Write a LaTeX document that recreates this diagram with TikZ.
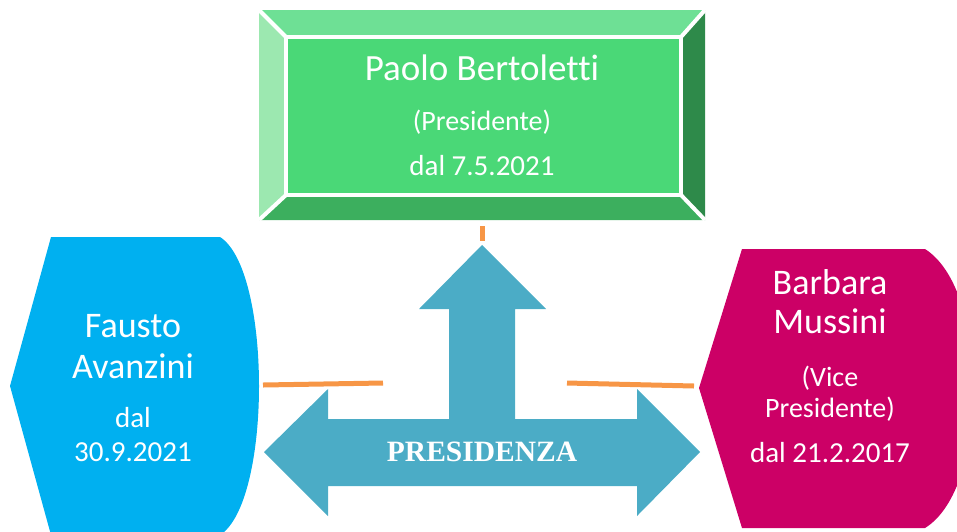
\documentclass[tikz,border=0pt]{standalone}
\usepackage{fontspec}
\setmainfont{Carlito}[Ligatures=NoCommon]
\newfontfamily\arrowfont{Liberation Serif}
\definecolor{grinner}{HTML}{4AD877}
\definecolor{grtop}{HTML}{6EE095}
\definecolor{grleft}{HTML}{9CE8B0}
\definecolor{grright}{HTML}{2E8A4A}
\definecolor{grbottom}{HTML}{3CAF5E}
\definecolor{leftblue}{HTML}{00B0F0}
\definecolor{rightpink}{HTML}{CC0066}
\definecolor{arrowblue}{HTML}{4BACC6}
\definecolor{connorange}{HTML}{F79646}
\begin{document}
\begin{tikzpicture}[x=1pt,y=-1pt,inner sep=0pt,outer sep=0pt,
bevel/.style={draw=white,line width=4pt,line join=round},
lbl/.style={text=white,anchor=base},
conn/.style={draw=connorange,line width=5pt}]
\useasboundingbox (0,0) rectangle (957,531);
\begin{scope}
\clip (0,0) rectangle (957,531);
% bevelled box on top
\fill[grtop] (259,10) -- (705,10) -- (681,37) -- (286,37) -- cycle;
\fill[grleft] (259,10) -- (286,37) -- (286,195) -- (259,220) -- cycle;
\fill[grright] (705,10) -- (705,220) -- (681,195) -- (681,37) -- cycle;
\fill[grbottom] (259,220) -- (286,195) -- (681,195) -- (705,220) -- cycle;
\draw[bevel] (259,10) -- (286,37) (705,10) -- (681,37) (259,220) -- (286,195) (705,220) -- (681,195);
\node[draw=white,line width=4pt,fill=grinner,minimum width=395pt,minimum height=158pt] (pres) at (483.5,116) {};
\node[lbl,font=\fontsize{37}{44}\selectfont] (pname) at (482,80) {Paolo Bertoletti};
\node[lbl,font=\fontsize{28}{34}\selectfont] (prole) at (482,130) {(Presidente)};
\node[lbl,font=\fontsize{29}{34}\selectfont] (pdate) at (482,175) {dal 7.5.2021};
% left and right shapes
\fill[leftblue] (10,386) -- (51,237) -- (220,237) .. controls (272,270) and (272,502) .. (220,535) -- (51,535) -- cycle;
\fill[rightpink] (699,388) -- (742,249) -- (925,249) .. controls (990,290) and (990,488) .. (925,528) -- (742,528) -- cycle;
\node[lbl,font=\fontsize{36}{42}\selectfont] (fname) at (133,337) {Fausto};
\node[lbl,font=\fontsize{36}{42}\selectfont] (fsurname) at (133,378) {Avanzini};
\node[lbl,font=\fontsize{29}{34}\selectfont] (fdal) at (133,427) {dal};
\node[lbl,font=\fontsize{29}{34}\selectfont] (fdate) at (133,461) {30.9.2021};
\node[lbl,font=\fontsize{36}{42}\selectfont] (bname) at (830,294) {Barbara};
\node[lbl,font=\fontsize{36}{42}\selectfont] (bsurname) at (830,333) {Mussini};
\node[lbl,font=\fontsize{28}{34}\selectfont] (bvice) at (830,386) {(Vice};
\node[lbl,font=\fontsize{28}{34}\selectfont] (brole) at (830,417) {Presidente)};
\node[lbl,font=\fontsize{29}{34}\selectfont] (bdate) at (830,462) {dal 21.2.2017};
% three-way arrow
\fill[arrowblue] (482,245) -- (546,309) -- (515,309) -- (515,419) -- (637,419) -- (637,389)
  -- (700,452) -- (637,516) -- (637,486) -- (328,486) -- (328,516) -- (264,452)
  -- (328,389) -- (328,419) -- (449,419) -- (449,309) -- (419,309) -- cycle;
\node[lbl,anchor=center,font=\arrowfont\bfseries\fontsize{29.5}{34}\selectfont] (presidenza) at (482,452) {PRESIDENZA};
% orange connectors
\coordinate (ctop1) at (482,226);
\coordinate (ctop2) at (482,241);
\coordinate (cleft1) at (263,385);
\coordinate (cleft2) at (383,383);
\coordinate (cright1) at (567,383);
\coordinate (cright2) at (694,386);
\draw[conn] (ctop1) -- (ctop2);
\draw[conn] (cleft1) -- (cleft2);
\draw[conn] (cright1) -- (cright2);
\end{scope}
\end{tikzpicture}
\end{document}
